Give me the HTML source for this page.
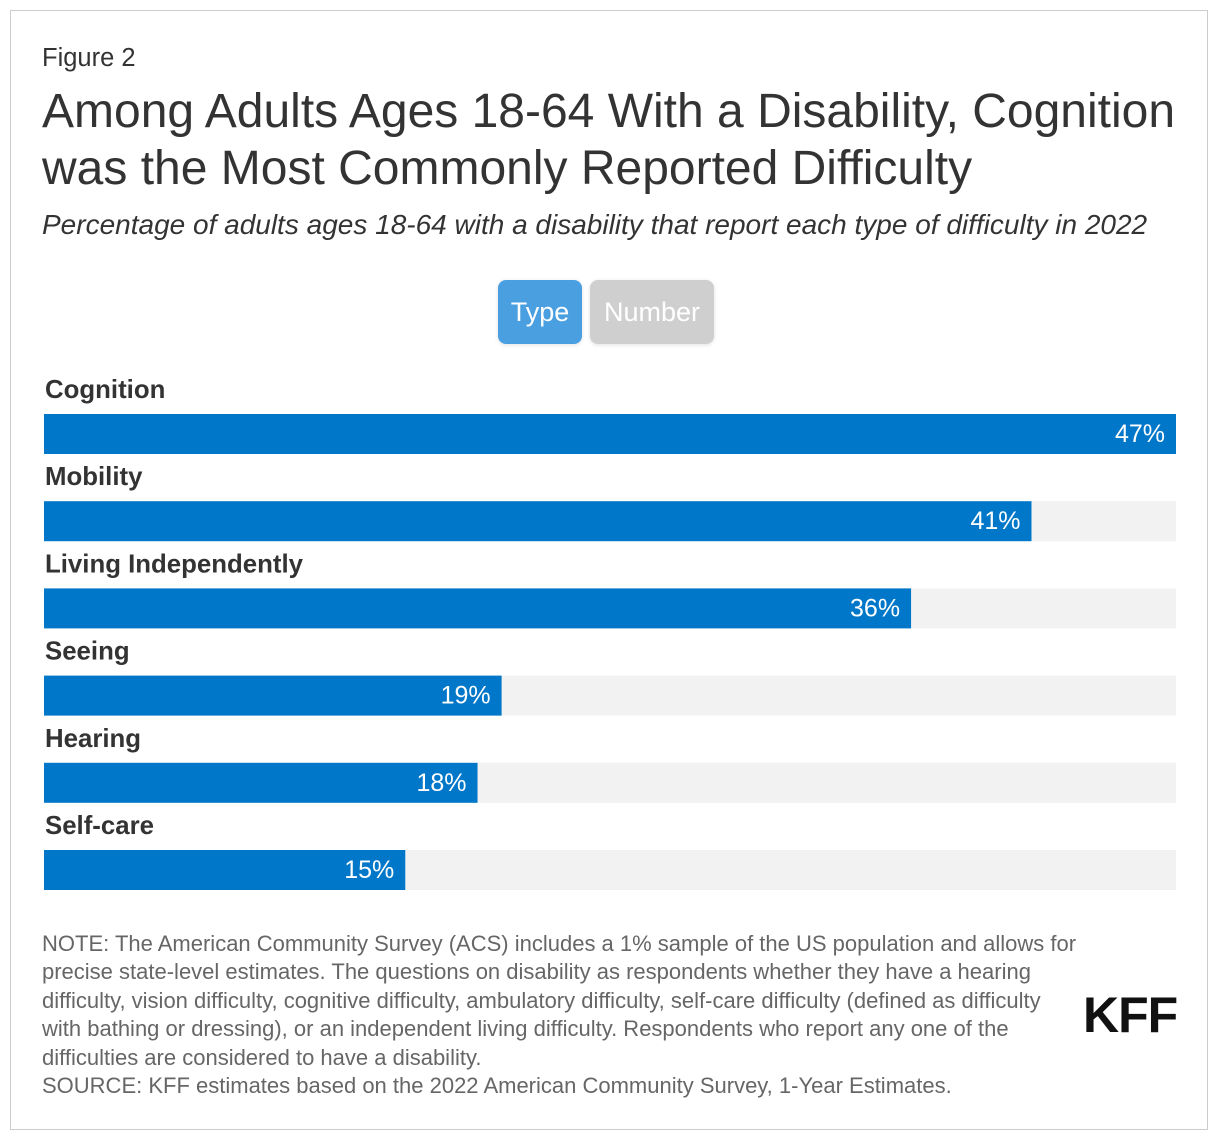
<!DOCTYPE html>
<html><head><meta charset="utf-8">
<style>
body{margin:0;width:1220px;height:1142px;background:#fff;font-family:"Liberation Sans",Arial,sans-serif;position:relative;overflow:hidden}
.frame{position:absolute;left:10px;top:10px;width:1198px;height:1120px;border:1px solid #ccc;box-sizing:border-box}
.abs{position:absolute;white-space:nowrap}
.btn{position:absolute;top:280px;height:64px;border-radius:8px;color:#fff;font-size:27px;line-height:64px;text-align:center;box-shadow:0 1px 4px rgba(0,0,0,0.12)}
.note{position:absolute;left:42px;top:930px;white-space:nowrap;font-size:22px;line-height:28.4px;color:#666}
</style></head><body>
<div class="frame"></div>
<div class="abs" style="left:42px;top:44px;font-size:25.5px;color:#333">Figure 2</div>
<div class="abs" style="left:42px;top:83px;font-size:48px;line-height:57px;color:#333">Among Adults Ages 18-64 With a Disability, Cognition<br>was the Most Commonly Reported Difficulty</div>
<div class="abs" style="left:42px;top:209px;font-size:28px;font-style:italic;color:#333">Percentage of adults ages 18-64 with a disability that report each type of difficulty in 2022</div>
<div class="btn" style="left:498px;width:84px;background:#4a9fe0">Type</div>
<div class="btn" style="left:590px;width:124px;background:#cfcfcf">Number</div>
<svg id="chart" width="1220" height="1142" style="position:absolute;left:0;top:0"></svg>
<div class="note">NOTE: The American Community Survey (ACS) includes a 1% sample of the US population and allows for<br>precise state-level estimates. The questions on disability as respondents whether they have a hearing<br>difficulty, vision difficulty, cognitive difficulty, ambulatory difficulty, self-care difficulty (defined as difficulty<br>with bathing or dressing), or an independent living difficulty. Respondents who report any one of the<br>difficulties are considered to have a disability.<br>SOURCE: KFF estimates based on the 2022 American Community Survey, 1-Year Estimates.</div>
<div class="abs" style="left:1083px;top:986px;font-size:50px;font-weight:bold;color:#111;letter-spacing:-1px">KFF</div>
<script>
const categories=["Cognition","Mobility","Living Independently","Seeing","Hearing","Self-care"];
const values=[47,41,36,19,18,15];
const maxValue=47;
const svg=document.getElementById('chart');
const NS='http://www.w3.org/2000/svg';
const x0=44,w=1132,top0=414,step=87.2,bh=40;
function xs(v){return w*v/maxValue;}
categories.forEach((c,i)=>{
  const y=top0+i*step;
  const lab=document.createElementNS(NS,'text');
  lab.setAttribute('x',45);lab.setAttribute('y',y-16);
  lab.setAttribute('font-size','25.8');lab.setAttribute('font-weight','bold');lab.setAttribute('fill','#333');
  lab.setAttribute('font-family','Liberation Sans, Arial, sans-serif');
  lab.textContent=c;
  
  
  svg.appendChild(lab);
  const bg=document.createElementNS(NS,'rect');
  bg.setAttribute('x',x0);bg.setAttribute('y',y);bg.setAttribute('width',w);bg.setAttribute('height',bh);bg.setAttribute('fill','#f2f2f2');
  
  
  svg.appendChild(bg);
  const r=document.createElementNS(NS,'rect');
  r.setAttribute('x',x0);r.setAttribute('y',y);r.setAttribute('width',xs(values[i]));r.setAttribute('height',bh);r.setAttribute('fill','#0077c8');
  
  
  svg.appendChild(r);
  const t=document.createElementNS(NS,'text');
  t.setAttribute('x',x0+xs(values[i])-11);t.setAttribute('y',y+28);t.setAttribute('text-anchor','end');
  t.setAttribute('font-size','25');t.setAttribute('fill','#fff');t.setAttribute('font-family','Liberation Sans, Arial, sans-serif');
  t.textContent=values[i]+'%';
  
  
  svg.appendChild(t);
});
</script>
</body></html>
